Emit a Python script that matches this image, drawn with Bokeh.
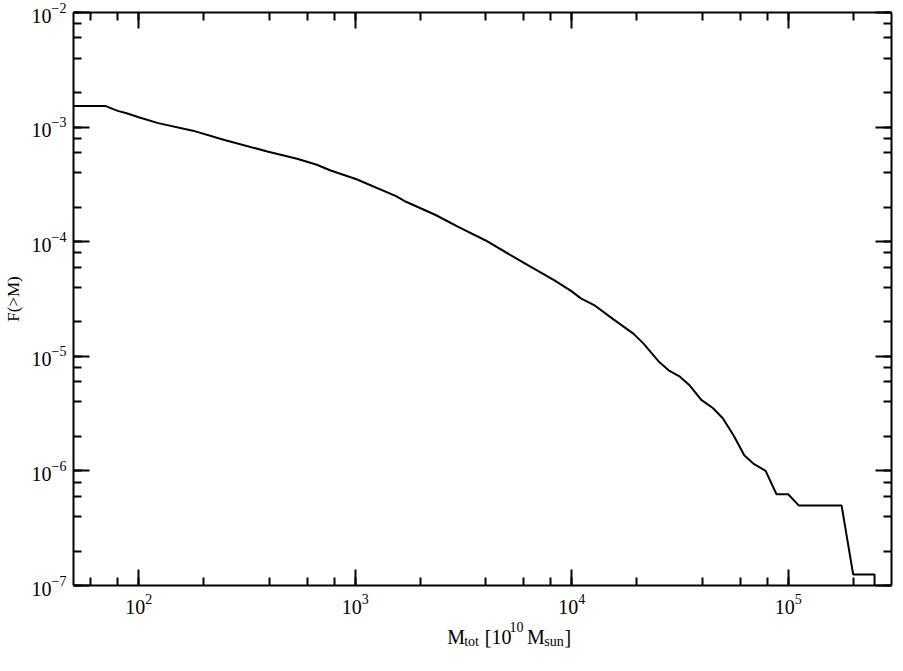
from bokeh.plotting import figure
from bokeh.layouts import column
from bokeh.models import LogAxis, LogTicker, CustomJSTickFormatter, ColumnDataSource
from bokeh.embed import file_html
from bokeh.resources import INLINE

# cumulative fraction F(>M) versus total mass M_tot [1e10 Msun]
mass = [50, 70, 80, 88, 100, 123, 178, 249, 393, 539, 665, 765, 1014, 1545,
        1717, 2353, 3008, 3986, 6072, 8326, 9926, 11030, 12690, 15660, 19330,
        21480, 25150, 27950, 31610, 35120, 39680, 44870, 49870, 55980, 62660,
        69610, 78650, 88310, 100000, 111800, 176400, 199500, 250500, 250500]
frac = [1.53e-3, 1.53e-3, 1.386e-3, 1.321e-3, 1.22e-3, 1.083e-3, 9.31e-4,
        7.72e-4, 6.13e-4, 5.29e-4, 4.69e-4, 4.20e-4, 3.51e-4, 2.50e-4,
        2.23e-4, 1.71e-4, 1.34e-4, 1.03e-4, 6.46e-5, 4.59e-5, 3.72e-5,
        3.20e-5, 2.80e-5, 2.09e-5, 1.57e-5, 1.29e-5, 9.07e-6, 7.58e-6,
        6.64e-6, 5.55e-6, 4.17e-6, 3.54e-6, 2.88e-6, 2.04e-6, 1.37e-6,
        1.145e-6, 1.0e-6, 6.25e-7, 6.25e-7, 5.0e-7, 5.0e-7, 1.25e-7, 1.25e-7,
        1e-9]

x_limits = (50, 3e5)
y_limits = (1e-7, 1e-2)

# x-axis title pieces: M_tot [10^10 M_sun]
title_text = ["M", "tot", "[10", "10", "M", "sun", "]"]
title_size = ["20px", "14px", "20px", "14px", "20px", "14px", "20px"]

FONT = "Liberation Serif"
W = 893

p = figure(width=W, height=616, x_axis_type="log", y_axis_type="log",
           x_range=x_limits, y_range=y_limits, output_backend="svg",
           toolbar_location=None, min_border_left=66, min_border_right=2,
           min_border_top=12, min_border_bottom=30)
p.grid.visible = False
p.outline_line_color = None
p.background_fill_color = "white"
p.border_fill_color = "white"

p.line(mass, frac, line_color="black", line_width=2)


def style(ax, show_labels=True):
    ax.axis_line_width = 2
    ax.axis_line_color = "black"
    ax.major_tick_in = 16
    ax.major_tick_out = 0
    ax.minor_tick_in = 8
    ax.minor_tick_out = 0
    ax.major_tick_line_width = 2
    ax.minor_tick_line_width = 2
    ax.major_tick_line_color = "black"
    ax.minor_tick_line_color = "black"
    ax.major_label_text_font = FONT
    ax.major_label_text_color = "black"
    if show_labels:
        ax.major_label_text_font_size = "20px"
    else:
        ax.formatter = CustomJSTickFormatter(code="return '';")
        ax.major_label_text_font_size = "1px"
        ax.major_label_standoff = 0


p.xaxis.ticker = LogTicker(mantissas=[1], desired_num_ticks=6)
p.yaxis.ticker = LogTicker(mantissas=[1], desired_num_ticks=8)
style(p.xaxis[0])
style(p.yaxis[0])
p.xaxis.major_label_standoff = 8
p.yaxis.major_label_standoff = 7
p.yaxis.axis_label = "F(>M)"
p.yaxis.axis_label_text_font = FONT
p.yaxis.axis_label_text_font_size = "17px"
p.yaxis.axis_label_text_font_style = "normal"
p.yaxis.axis_label_text_color = "black"
p.yaxis.axis_label_standoff = 6

top = LogAxis(ticker=LogTicker(mantissas=[1], desired_num_ticks=6))
style(top, False)
p.add_layout(top, "above")
right = LogAxis(ticker=LogTicker(mantissas=[1], desired_num_ticks=8))
style(right, False)
p.add_layout(right, "right")

# strip underneath holding the composed x-axis title (pixel coordinates)
H2 = 37
t = figure(width=W, height=H2, x_range=(0, W), y_range=(0, H2),
           output_backend="svg", toolbar_location=None, min_border=0,
           x_axis_location=None, y_axis_location=None)
t.grid.visible = False
t.outline_line_color = None
t.background_fill_color = "white"
t.border_fill_color = "white"
start = 408
offsets = [0, 18.5, 41, 68, 87, 106, 128]
ys = [17, 12, 17, 27, 17, 12, 17]
src = ColumnDataSource(dict(x=[start + o for o in offsets], y=ys,
                            text=title_text, size=title_size))
t.text(x="x", y="y", text="text", text_font_size="size", source=src,
       text_font=FONT, text_color="black", text_align="left",
       text_baseline="alphabetic")

layout = column(p, t, spacing=0)
open("out.html", "w").write(file_html(layout, INLINE))
